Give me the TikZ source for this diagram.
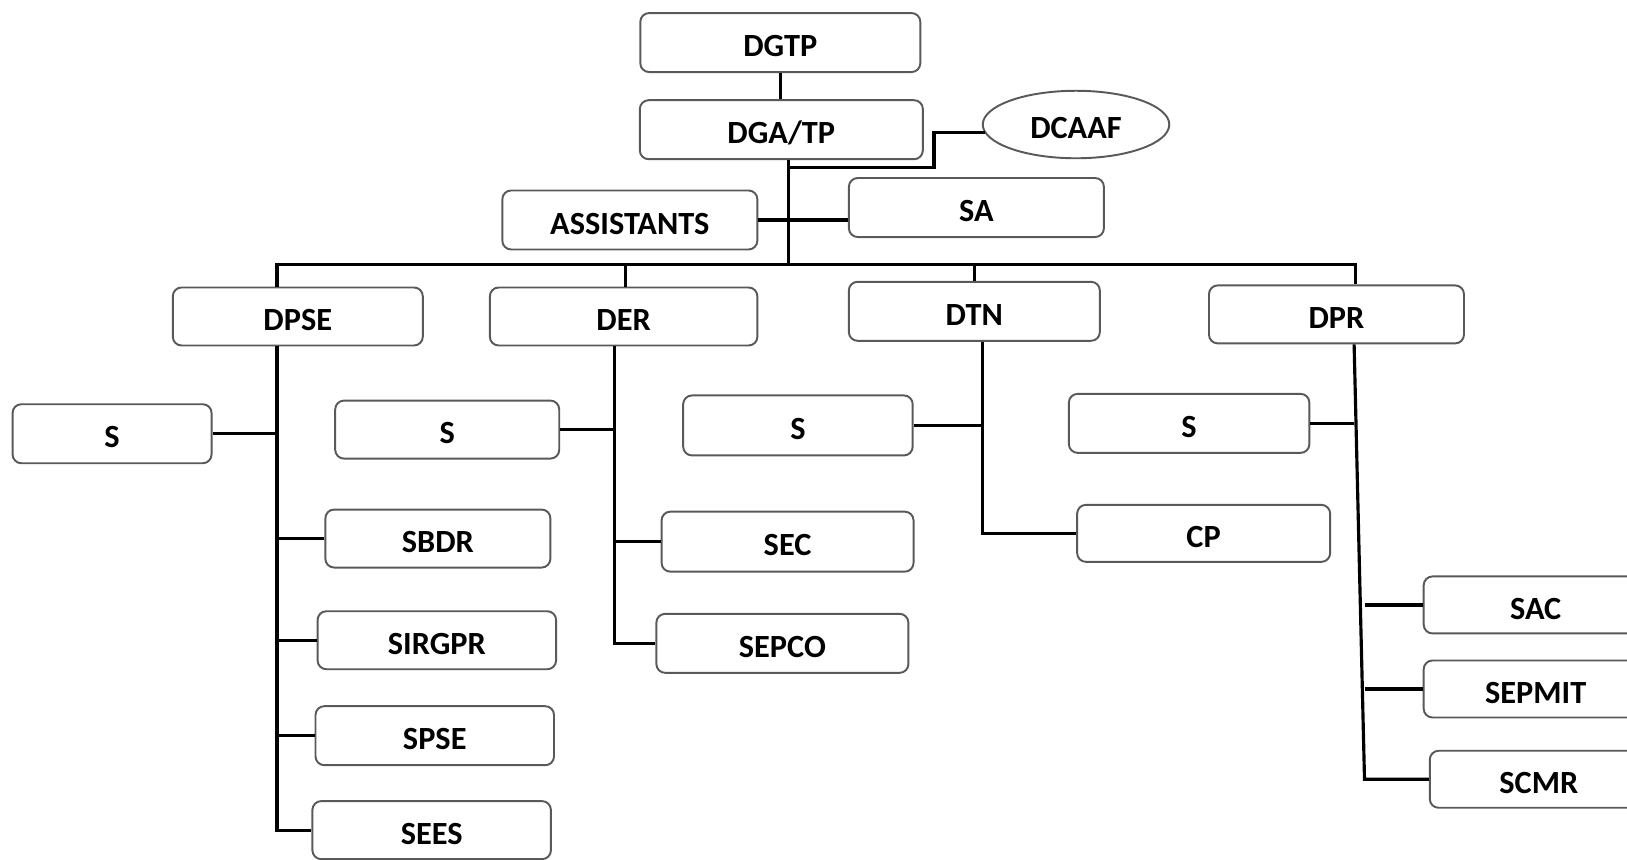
\documentclass[tikz,border=0pt]{standalone}
\usepackage{fontspec}
\setmainfont{Carlito}
\usepackage{tikz}
\usetikzlibrary{shapes, positioning, calc}

\begin{document}
\begin{tikzpicture}[
  x=0.02075cm, y=-0.02075cm,
  obox/.style={draw=black!65, line width=1.1pt, rounded corners=5pt, fill=white, minimum height=1.18cm, inner sep=2pt, text height=16pt, text depth=0pt, font=\bfseries\fontsize{18.4}{20}\selectfont},
  oell/.style={draw=black!65, line width=1.1pt, ellipse, fill=white, minimum width=3.73cm, minimum height=1.35cm, inner sep=0pt, text height=16pt, text depth=0pt, font=\bfseries\fontsize{18.4}{20}\selectfont},
  conn/.style={draw=black, line width=1.8pt}
]
  \clip (0,0) rectangle (1568,828);

  % top level
  \node[obox, minimum width=5.60cm] (dgtp) at (752,41) {DGTP};
  \node[obox, minimum width=5.66cm] (dgatp) at (753,125) {DGA/TP};
  \node[oell] (dcaaf) at (1037,120) {DCAAF};
  \node[obox, minimum width=5.10cm] (assist) at (607,212) {ASSISTANTS};
  \node[obox, minimum width=5.10cm] (sa) at (941,200) {SA};

  % directions
  \node[obox, minimum width=5.00cm, minimum height=1.16cm] (dpse) at (287,305) {DPSE};
  \node[obox, minimum width=5.35cm, minimum height=1.16cm] (der) at (601,305) {DER};
  \node[obox, minimum width=5.02cm] (dtn) at (939,300) {DTN};
  \node[obox, minimum width=5.10cm, minimum height=1.16cm] (dpr) at (1288,303) {DPR};

  % services of DPSE
  \node[obox, minimum width=3.98cm] (s1) at (108,418) {S};
  \node[obox, minimum width=4.50cm, minimum height=1.16cm] (sbdr) at (422,519) {SBDR};
  \node[obox, minimum width=4.77cm, minimum height=1.16cm] (sirgpr) at (421,617) {SIRGPR};
  \node[obox, minimum width=4.77cm] (spse) at (419,709) {SPSE};
  \node[obox, minimum width=4.77cm, minimum height=1.16cm] (sees) at (416,800) {SEES};

  % services of DER
  \node[obox, minimum width=4.48cm, minimum height=1.16cm] (s2) at (431,414) {S};
  \node[obox, minimum width=5.04cm, minimum height=1.20cm] (sec) at (759,522) {SEC};
  \node[obox, minimum width=5.04cm] (sepco) at (754,620) {SEPCO};

  % services of DTN
  \node[obox, minimum width=4.59cm, minimum height=1.20cm] (s3) at (769,410) {S};
  \node[obox, minimum width=5.06cm, minimum height=1.14cm] (cp) at (1160,514) {CP};

  % services of DPR
  \node[obox, minimum width=4.81cm] (s4) at (1146,408) {S};
  \node[obox, minimum width=4.48cm, minimum height=1.14cm] (sac) at (1480,583) {SAC};
  \node[obox, minimum width=4.48cm, minimum height=1.14cm] (sepmit) at (1480,664) {SEPMIT};
  \node[obox, minimum width=4.36cm, minimum height=1.14cm] (scmr) at (1483,751) {SCMR};

  % upper links
  \coordinate (hub) at (760,255);
  \draw[conn] (dgtp.south) -- (dgtp.south |- dgatp.north);
  \draw[conn] (hub |- dgatp.south) -- (hub);
  \draw[conn] ($(hub |- dgatp.south)+(0,7)$) -| ($(dcaaf.west)+(-46,8)$) -- ($(dcaaf.west)+(3,8)$);
  \draw[conn] (assist.east) -- (assist.east -| sa.west);

  % bus
  \coordinate (dpsetap) at ($(dpse.north)+(-20,0)$);
  \coordinate (dprtap) at ($(dpr.north)+(18,0)$);
  \draw[conn] (dpsetap) |- (hub) -| (dprtap);
  \draw[conn] ($(der.north |- hub)+(2,0)$) -- ($(der.north)+(2,0)$);
  \draw[conn] (dtn.north |- hub) -- (dtn.north);

  % DPSE branch
  \coordinate (dpsespine) at ($(dpse.south)+(-20,0)$);
  \draw[conn] (dpsespine) |- (sees.west);
  \draw[conn] (s1.east) -- (s1.east -| dpsespine);
  \draw[conn] (sbdr.west) -- (sbdr.west -| dpsespine);
  \draw[conn] (sirgpr.west) -- (sirgpr.west -| dpsespine);
  \draw[conn] (spse.west) -- (spse.west -| dpsespine);

  % DER branch
  \coordinate (derspine) at ($(der.south)+(-9,0)$);
  \draw[conn] (derspine) |- (sepco.west);
  \draw[conn] (s2.east) -- (s2.east -| derspine);
  \draw[conn] (sec.west) -- (sec.west -| derspine);

  % DTN branch
  \coordinate (dtnspine) at ($(dtn.south)+(8,0)$);
  \draw[conn] (dtnspine) |- (cp.west);
  \draw[conn] (s3.east) -- (s3.east -| dtnspine);

  % DPR branch
  \coordinate (dprspine) at ($(dpr.south)+(17,0)$);
  \coordinate (dprfoot) at ($(scmr.west)+(-62,0)$);
  \draw[conn] (dprspine) -- (dprfoot) -- (scmr.west);
  \draw[conn] (s4.east) -- (s4.east -| dprspine);
  \draw[conn] (sac.west) -- (sac.west -| dprfoot);
  \draw[conn] (sepmit.west) -- (sepmit.west -| dprfoot);
\end{tikzpicture}
\end{document}
